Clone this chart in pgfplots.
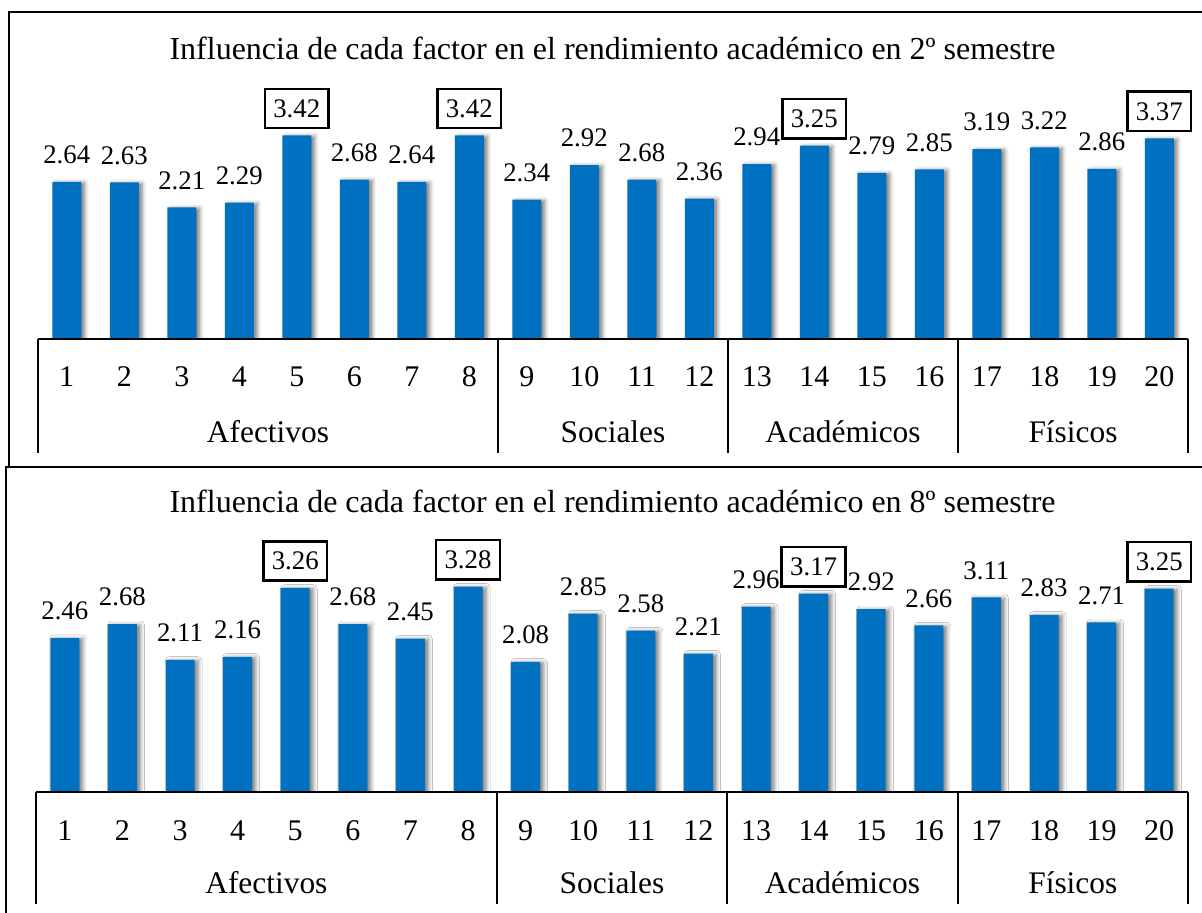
\documentclass[border=0pt]{standalone}
\usepackage{pgfplots}
\pgfplotsset{compat=1.18}
\usepackage{pgfplotstable}
\usepackage{fontspec}
\setmainfont{Liberation Serif}
\usetikzlibrary{shadows.blur}
\definecolor{barblue}{RGB}{0,112,192}
\newcommand\titlefont{\fontsize{16pt}{18pt}\selectfont}
\newcommand\tickfont{\fontsize{15pt}{17pt}\selectfont}
\newcommand\grpfont{\fontsize{15.7pt}{18pt}\selectfont}
\newcommand\lblfont{\fontsize{13.4pt}{15pt}\selectfont}

\pgfplotstableread{
x y
1 2.64
2 2.63
3 2.21
4 2.29
5 3.42
6 2.68
7 2.64
8 3.42
9 2.34
10 2.92
11 2.68
12 2.36
13 2.94
14 3.25
15 2.79
16 2.85
17 3.19
18 3.22
19 2.86
20 3.37
}\dataA
\pgfplotstableread{
x y
5 3.42
8 3.42
14 3.25
20 3.37
}\boxA

\pgfplotstableread{
x y
1 2.46
2 2.68
3 2.11
4 2.16
5 3.26
6 2.68
7 2.45
8 3.28
9 2.08
10 2.85
11 2.58
12 2.21
13 2.96
14 3.17
15 2.92
16 2.66
17 3.11
18 2.83
19 2.71
20 3.25
}\dataB
\pgfplotstableread{
x y
5 3.26
8 3.28
14 3.17
20 3.25
}\boxB

\pgfplotsset{
  panel/.style={
    anchor=south west, scale only axis,
    xmin=0.5, xmax=20.5, ymin=0, ymax=4.5,
    axis line style={draw=none}, tick style={draw=none},
    ytick=\empty, xtick={1,...,20},
    xticklabel style={font=\tickfont, anchor=base, yshift=-24pt, inner sep=0pt},
    /pgf/number format/assume math mode=true,
  },
  barsty/.style={ybar, bar shift=0pt, bar width=14.5pt, fill=barblue, draw=none,
    blur shadow={shadow xshift=1.8pt, shadow yshift=-0.4pt, shadow blur radius=2pt, shadow opacity=50}},
  lblsty/.style={draw=none, mark=none, point meta=y,
    nodes near coords={\pgfmathprintnumber[fixed,fixed zerofill,precision=2]{\pgfplotspointmeta}},
    nodes near coords style={font=\lblfont, anchor=center, yshift=13.5pt, inner sep=0pt}},
  boxsty/.style={lblsty,
    nodes near coords style={draw=black, fill=white, line width=1.3pt, inner xsep=4.2pt, inner ysep=5.3pt}},
}

\begin{document}
\begin{tikzpicture}
\path[use as bounding box] (0,0) rectangle (601pt,-456.5pt);
\draw[line width=1.3pt] (4.5pt,-6pt) rectangle (620pt,-233.5pt);
\draw[line width=1.3pt, fill=white] (3pt,-233.5pt) rectangle (620pt,-470pt);

\node[anchor=base, font=\titlefont] at (306.25pt,-30pt) {Influencia de cada factor en el rendimiento académico en 2º semestre};
\node[anchor=base, font=\titlefont] at (306.25pt,-256pt) {Influencia de cada factor en el rendimiento académico en 8º semestre};

% ---- top panel
\begin{axis}[panel, name=top, at={(19pt,-169.5pt)}, width=575pt, height=133.9pt]
\addplot[barsty] table[x=x,y=y]{\dataA};
\addplot[lblsty] table[x=x,y=y]{\dataA};
\addplot[boxsty] table[x=x,y=y]{\boxA};
\coordinate (a0) at (axis cs:0.5,0);
\coordinate (a8) at (axis cs:8.5,0);
\coordinate (a12) at (axis cs:12.5,0);
\coordinate (a16) at (axis cs:16.5,0);
\coordinate (a20) at (axis cs:20.5,0);
\coordinate (ag1) at (axis cs:4.5,0);
\coordinate (ag2) at (axis cs:10.5,0);
\coordinate (ag3) at (axis cs:14.5,0);
\coordinate (ag4) at (axis cs:18.5,0);
\end{axis}
\draw[line width=1pt] (a0) -- (a20);
\foreach \c in {a0,a8,a12,a16,a20} \draw[line width=1pt] (\c) -- ++(0,-57pt);
\node[anchor=base, font=\grpfont] at ([yshift=-52pt]ag1) {Afectivos};
\node[anchor=base, font=\grpfont] at ([yshift=-52pt]ag2) {Sociales};
\node[anchor=base, font=\grpfont] at ([yshift=-52pt]ag3) {Académicos};
\node[anchor=base, font=\grpfont] at ([yshift=-52pt]ag4) {Físicos};

% ---- bottom panel
\begin{axis}[panel, name=bot, at={(18pt,-396pt)}, width=576pt, height=140.85pt]
\addplot[barsty] table[x=x,y=y]{\dataB};
\addplot[lblsty] table[x=x,y=y]{\dataB};
\addplot[boxsty] table[x=x,y=y]{\boxB};
\coordinate (b0) at (axis cs:0.5,0);
\coordinate (b8) at (axis cs:8.5,0);
\coordinate (b12) at (axis cs:12.5,0);
\coordinate (b16) at (axis cs:16.5,0);
\coordinate (b20) at (axis cs:20.5,0);
\coordinate (bg1) at (axis cs:4.5,0);
\coordinate (bg2) at (axis cs:10.5,0);
\coordinate (bg3) at (axis cs:14.5,0);
\coordinate (bg4) at (axis cs:18.5,0);
\end{axis}
\draw[line width=1pt] (b0) -- (b20);
\foreach \c in {b0,b8,b12,b16,b20} \draw[line width=1pt] (\c) -- ++(0,-56pt);
\node[anchor=base, font=\grpfont] at ([yshift=-50.5pt]bg1) {Afectivos};
\node[anchor=base, font=\grpfont] at ([yshift=-50.5pt]bg2) {Sociales};
\node[anchor=base, font=\grpfont] at ([yshift=-50.5pt]bg3) {Académicos};
\node[anchor=base, font=\grpfont] at ([yshift=-50.5pt]bg4) {Físicos};
\end{tikzpicture}
\end{document}
